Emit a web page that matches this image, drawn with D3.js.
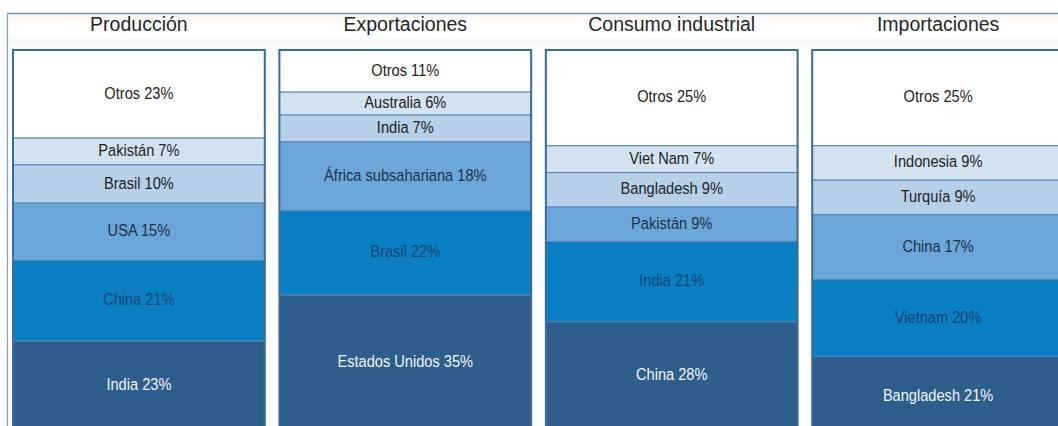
<!DOCTYPE html>
<html lang="es">
<head>
<meta charset="UTF-8">
<title>Algodón: producción, exportaciones, consumo e importaciones</title>
<script src="https://d3js.org/d3.v7.min.js"></script>
<style>
    body { margin: 0; background: #fff; }
    svg { display: block; }
    .title { font-family: 'Liberation Sans', Arial, sans-serif; font-size: 19.5px; fill: #262626; text-anchor: middle; }
    .seg-label { font-family: 'Liberation Sans', Arial, sans-serif; font-size: 17px; text-anchor: middle; dominant-baseline: middle; }
</style>
</head>
<body>
<svg id="chart" width="1058" height="426"></svg>
<script>
// panel titles
const panels = ["Producción", "Exportaciones", "Consumo industrial", "Importaciones"];

// each column from top to bottom
const produccionLabels = ["Otros", "Pakistán", "Brasil", "USA", "China", "India"];
const produccionValues = [23, 7, 10, 15, 21, 23];

const exportLabels = ["Otros", "Australia", "India", "África subsahariana", "Brasil", "Estados Unidos"];
const exportValues = [11, 6, 7, 18, 22, 35];

const consumoLabels = ["Otros", "Viet Nam", "Bangladesh", "Pakistán", "India", "China"];
const consumoValues = [25, 7, 9, 9, 21, 28];

const importLabels = ["Otros", "Indonesia", "Turquía", "China", "Vietnam", "Bangladesh"];
const importValues = [25, 9, 9, 17, 20, 21];

const columns = [
    { labels: produccionLabels, values: produccionValues },
    { labels: exportLabels, values: exportValues },
    { labels: consumoLabels, values: consumoValues },
    { labels: importLabels, values: importValues }
];

// shade by position in the stack (top = Otros)
const fills = ["#ffffff", "#d3e2ef", "#b6d0e9", "#6aa6d7", "#0b7fc3", "#2e5e8b"];
const textColors = ["#222", "#222", "#222", "#1f324b", "#17446f", "#f2f4f7"];

const svg = d3.select("#chart");

const x = d3.scaleBand()
    .domain(panels)
    .range([13, 1064])
    .paddingInner(0.055);

// 100% maps to the full column height; the bottom runs past the picture
const y = d3.scaleLinear()
    .domain([0, 100])
    .range([50, 433]);

// outer frame and header band
svg.append("rect")
    .attr("x", 8).attr("y", 15).attr("width", 1050).attr("height", 31)
    .attr("fill", "#fbf8f6");
svg.append("rect")
    .attr("x", 8).attr("y", 21).attr("width", 1050).attr("height", 17)
    .attr("fill", "#ffffff");
svg.append("line")
    .attr("x1", 7).attr("y1", 13.5).attr("x2", 1058).attr("y2", 13.5)
    .attr("stroke", "#6f93b8").attr("stroke-width", 1.5);
svg.append("line")
    .attr("x1", 7.5).attr("y1", 13).attr("x2", 7.5).attr("y2", 426)
    .attr("stroke", "#7d9fc2").attr("stroke-width", 1.2);

columns.forEach((col, i) => {
    const name = panels[i];
    const g = svg.append("g");
    let acc = 0;
    const segs = col.values.map((v, j) => {
        const s = { label: col.labels[j], value: v, start: acc, idx: j };
        acc += v;
        return s;
    });

    g.selectAll("rect.seg")
        .data(segs)
        .join("rect")
        .attr("class", "seg")
        .attr("x", x(name))
        .attr("y", d => y(d.start))
        .attr("width", x.bandwidth())
        .attr("height", d => y(d.start + d.value) - y(d.start))
        .attr("fill", d => fills[d.idx])
        .attr("stroke", "#5384b3")
        .attr("stroke-width", 1);

    // labels are a bit condensed in the original
    g.selectAll("text.seg-label")
        .data(segs)
        .join("text")
        .attr("class", "seg-label")
        .attr("transform", d => `translate(${x(name) + x.bandwidth() / 2},${(y(d.start) + y(d.start + d.value)) / 2}) scale(0.86,1)`)
        .attr("fill", d => textColors[d.idx])
        .text(d => `${d.label} ${d.value}%`);

    // column outline
    g.append("rect")
        .attr("x", x(name))
        .attr("y", y(0))
        .attr("width", x.bandwidth())
        .attr("height", y(100) - y(0))
        .attr("fill", "none")
        .attr("stroke", "#3a6c9c")
        .attr("stroke-width", 2);

    svg.append("text")
        .attr("class", "title")
        .attr("x", x(name) + x.bandwidth() / 2)
        .attr("y", 30.5)
        .text(name);
});
</script>
</body>
</html>
